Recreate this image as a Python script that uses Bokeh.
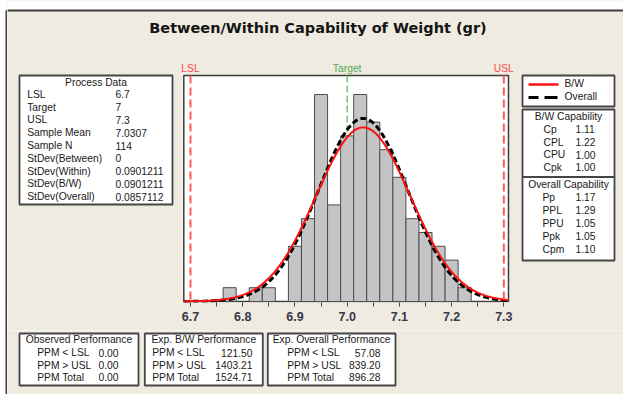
import numpy as np
from bokeh.plotting import figure
from bokeh.layouts import column, row
from bokeh.models import FixedTicker, Range1d, ColumnDataSource, PrintfTickFormatter
from bokeh.core.properties import value
from bokeh.embed import file_html
from bokeh.resources import INLINE

# ---------------- data ----------------
bin_centers = [6.775, 6.825, 6.85, 6.9, 6.925, 6.95, 6.975, 7.0, 7.025,
               7.05, 7.075, 7.1, 7.125, 7.15, 7.175, 7.2, 7.225]
counts = [1, 1, 1, 4, 6, 15, 7, 12, 15, 13, 11, 9, 6, 5, 4, 3, 1]
BIN_W = 0.025

LSL, TARGET, USL = 6.7, 7.0, 7.3
MEAN = 7.0307
N = 114
SD_BW = 0.0901211
SD_OVERALL = 0.0857112

x_ticks = [6.7, 6.8, 6.9, 7.0, 7.1, 7.2, 7.3]
x_minor = [6.75, 6.85, 6.95, 7.05, 7.15, 7.25]

process_labels = ["LSL", "Target", "USL", "Sample Mean", "Sample N",
                  "StDev(Between)", "StDev(Within)", "StDev(B/W)", "StDev(Overall)"]
process_values = ["6.7", "7", "7.3", "7.0307", "114", "0",
                  "0.0901211", "0.0901211", "0.0857112"]
bw_cap_labels = ["Cp", "CPL", "CPU", "Cpk"]
bw_cap_values = ["1.11", "1.22", "1.00", "1.00"]
ov_cap_labels = ["Pp", "PPL", "PPU", "Ppk", "Cpm"]
ov_cap_values = ["1.17", "1.29", "1.05", "1.05", "1.10"]
perf_labels = ["PPM < LSL", "PPM > USL", "PPM Total"]
observed_perf = ["0.00", "0.00", "0.00"]
exp_bw_perf = ["121.50", "1403.21", "1524.71"]
exp_overall_perf = ["57.08", "839.20", "896.28"]

# ---------------- layout ----------------
W_TOTAL, H_TOTAL = 623, 394
LW = 7                    # narrow left strip figure (outer border)
W = W_TOTAL - LW
HA, HB = 330, 64          # top figure (chart + axis), bottom figure (tables)
FRAME_B = 302             # frame bottom of top figure (pixels from top)
PX_PER_UNIT = 522.2
PX_PER_COUNT = 13.8
ZERO_Y = 301              # pixel row of count 0
XS = 6.7 - (190 - LW) / PX_PER_UNIT
XE = XS + W / PX_PER_UNIT
YS = -(FRAME_B - ZERO_Y) / PX_PER_COUNT
YE = YS + FRAME_B / PX_PER_COUNT
TY = -1.2                 # small vertical nudge for box texts

BG = "#EFEBE1"
BOX_LINE = "#454545"
BORDER = "#3c3c3c"
TXT = "#1a1a1a"
FONT = "Liberation Sans"
FS = "10.3px"

pL = figure(width=LW, height=H_TOTAL, output_backend="svg", toolbar_location=None,
            x_range=Range1d(0, LW), y_range=Range1d(H_TOTAL, 0),
            y_axis_location=None, x_axis_location=None,
            min_border_left=0, min_border_right=0, min_border_top=0, min_border_bottom=0)

pA = figure(width=W, height=HA, output_backend="svg", toolbar_location=None,
            x_range=Range1d(XS, XE), y_range=Range1d(YS, YE),
            y_axis_location=None, x_axis_location="below",
            min_border_left=0, min_border_right=0, min_border_top=0,
            min_border_bottom=HA - FRAME_B)
pA.extra_x_ranges = {"px": Range1d(LW, W_TOTAL)}
pA.extra_y_ranges = {"px": Range1d(FRAME_B, 0)}

pB = figure(width=W, height=HB, output_backend="svg", toolbar_location=None,
            x_range=Range1d(LW, W_TOTAL), y_range=Range1d(HA + HB, HA),
            y_axis_location=None, x_axis_location=None,
            min_border_left=0, min_border_right=0, min_border_top=0, min_border_bottom=0)

for f in (pA, pB):
    f.background_fill_color = BG
    f.border_fill_color = BG
for f in (pL, pA, pB):
    f.outline_line_color = None
    f.grid.visible = False
pL.background_fill_color = "white"
pL.border_fill_color = "white"

ax = pA.xaxis[0]
ax.ticker = FixedTicker(ticks=x_ticks, minor_ticks=x_minor)
ax.formatter = PrintfTickFormatter(format="%.1f")
ax.axis_line_color = None
ax.major_tick_in = 0
ax.major_tick_out = 4
ax.minor_tick_in = 0
ax.minor_tick_out = 4
ax.major_tick_line_color = "#444444"
ax.minor_tick_line_color = "#444444"
ax.major_label_text_font = "Liberation Sans"
ax.major_label_text_font_style = "bold"
ax.major_label_text_font_size = "12.5px"
ax.major_label_text_color = "#383848"
ax.major_label_standoff = 5

PXR = dict(x_range_name="px", y_range_name="px")


def txt(f, text, x, y, align="left", size=FS, color=TXT, bold=False, font=FONT, **kw):
    f.text(x=[x], y=[y + TY], text=[text], text_align=align, text_baseline="middle",
           text_font=value(font), text_font_size=value(size), text_color=color,
           text_font_style="bold" if bold else "normal", **kw)


def box(f, l, t, r, b, fill="white", line=BOX_LINE, lw=1.8, **kw):
    f.quad(left=[l], right=[r], top=[t], bottom=[b], fill_color=fill,
           line_color=line, line_width=lw, **kw)


# outer border: left strip figure + top white margin and line
pL.segment(x0=[6], y0=[10], x1=[6], y1=[H_TOTAL], line_color=BORDER, line_width=2)
pL.segment(x0=[6], y0=[10], x1=[LW], y1=[10], line_color=BORDER, line_width=2)
box(pA, LW, 0, W_TOTAL, 10, fill="white", line=None, **PXR)
pA.segment(x0=[LW], y0=[10], x1=[W_TOTAL], y1=[10], line_color=BORDER, line_width=2, **PXR)

# plot area
box(pA, 183.3, 75, 508, 301, fill="white", line="#3c3c3c", lw=1.5, **PXR)

# target line (behind bars)
pA.segment(x0=[TARGET], y0=[75], x1=[TARGET], y1=[301], line_color="#5DBB5D",
           line_dash="7 3", line_width=1.3, y_range_name="px")

src = ColumnDataSource(dict(x=bin_centers, top=counts))
pA.vbar(x="x", top="top", width=BIN_W, bottom=0, source=src,
        fill_color="#C4C4C4", line_color="#4d4d4d", line_width=1)

xc = np.linspace(6.6872, 7.309, 400)


def fitted(sd):
    return N * BIN_W * np.exp(-0.5 * ((xc - MEAN) / sd) ** 2) / (sd * np.sqrt(2 * np.pi))


pA.line(xc, fitted(SD_OVERALL), line_color="black", line_width=3, line_dash="6 3")
pA.line(xc, fitted(SD_BW), line_color="#FF1010", line_width=2)

pA.segment(x0=[LSL, USL], y0=[75, 75], x1=[LSL, USL], y1=[301, 301],
           line_color="#FF5A5A", line_dash="8 4", line_width=2, y_range_name="px")

# spec labels
txt(pA, "LSL", LSL, 69, align="center", color="#FF4848", y_range_name="px")
txt(pA, "USL", USL, 69, align="center", color="#FF4848", y_range_name="px")
txt(pA, "Target", TARGET, 69, align="center", color="#55AA55", y_range_name="px")

# title
txt(pA, "Between/Within Capability of Weight (gr)", 317.5, 29, align="center",
    size="14.5px", bold=True, color="#151515", font="DejaVu Sans", **PXR)

# process data box
box(pA, 19, 75, 172, 204, **PXR)
txt(pA, "Process Data", 95.5, 83.3, align="center", **PXR)
for i, (lab, val) in enumerate(zip(process_labels, process_values)):
    yy = 95 + i * 12.8
    txt(pA, lab, 26.7, yy, **PXR)
    txt(pA, val, 115, yy, **PXR)

# legend box
box(pA, 522, 75, 614, 106, **PXR)
pA.segment(x0=[528], y0=[84], x1=[558], y1=[84], line_color="#FF1010", line_width=2.5, **PXR)
pA.segment(x0=[528, 544], y0=[97, 97], x1=[538, 557], y1=[97, 97], line_color="black",
           line_width=3, **PXR)
txt(pA, "B/W", 564, 84.5, **PXR)
txt(pA, "Overall", 564, 97.5, **PXR)

# B/W capability
box(pA, 522, 109, 614, 176.5, **PXR)
txt(pA, "B/W Capability", 568, 117, align="center", **PXR)
for i, (lab, val) in enumerate(zip(bw_cap_labels, bw_cap_values)):
    yy = 130 + i * 12.7
    txt(pA, lab, 543, yy, **PXR)
    txt(pA, val, 575, yy, **PXR)

# overall capability
box(pA, 522, 176.5, 614, 260, **PXR)
txt(pA, "Overall Capability", 568, 185, align="center", **PXR)
for i, (lab, val) in enumerate(zip(ov_cap_labels, ov_cap_values)):
    yy = 198 + i * 13
    txt(pA, lab, 542, yy, **PXR)
    txt(pA, val, 575, yy, **PXR)

# bottom tables
perf = [
    ("Observed Performance", observed_perf, 19, 138, 36.7, 118),
    ("Exp. B/W Performance", exp_bw_perf, 144.3, 262.3, 151.7, 252),
    ("Exp. Overall Performance", exp_overall_perf, 267.3, 395, 286.7, 380),
]
for title, vals, l, r, lx, vx in perf:
    box(pB, l, 333, r, 385)
    txt(pB, title, (l + r) / 2, 340.5, align="center")
    for i, (lab, val) in enumerate(zip(perf_labels, vals)):
        yy = 353.3 + i * 12.4
        txt(pB, lab, lx, yy)
        txt(pB, val, vx, yy, align="right")

layout = row(pL, column(pA, pB, spacing=0), spacing=0)
open("out.html", "w").write(file_html(layout, INLINE))
